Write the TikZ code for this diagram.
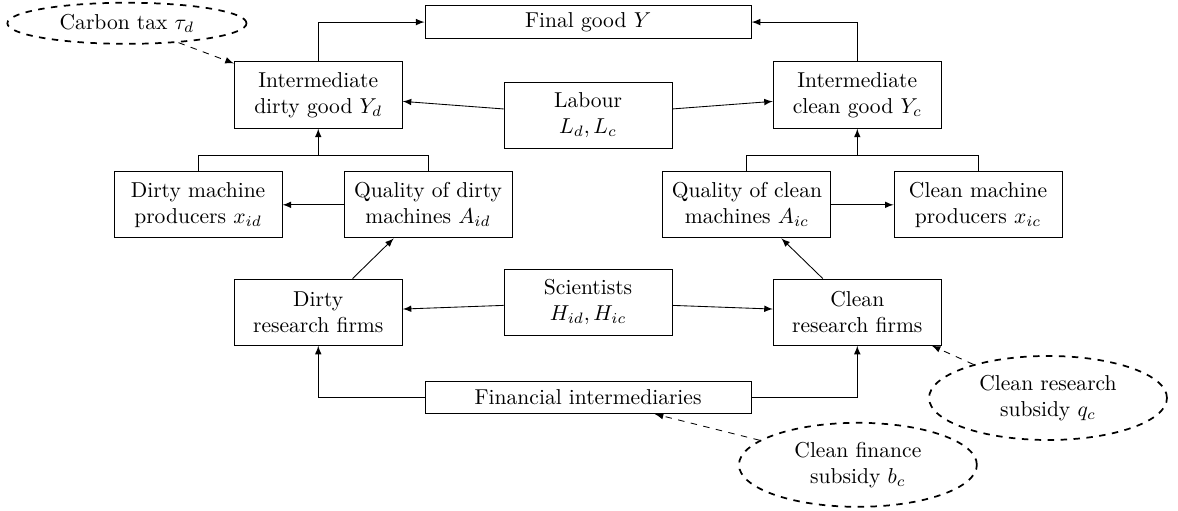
\documentclass[tikz,border=0pt]{standalone}
\usetikzlibrary{shapes.geometric}

\begin{document}
\begin{tikzpicture}
  [
    box/.style={draw,align=center,minimum width=2.74cm,minimum height=1.08cm,inner sep=2pt},
    long box/.style={draw,minimum width=5.32cm,minimum height=0.53cm,inner sep=1pt},
    policy/.style={draw,ellipse,dashed,thick,align=center,minimum width=3.88cm,minimum height=1.37cm,inner sep=0pt},
    flow/.style={-latex},
    policy flow/.style={-latex,dashed},
  ]
  \useasboundingbox (-9.59,0.36) rectangle (9.62,-7.96);

  \node(final)[long box] at (0,0) {Final good $Y$};
  \node(intdirty)[box] at (-4.40,-1.19) {Intermediate\\dirty good $Y_d$};
  \node(labour)[box] at (0,-1.52) {Labour\\$L_d,L_c$};
  \node(intclean)[box] at (4.39,-1.19) {Intermediate\\clean good $Y_c$};

  \node(dirtyprod)[box] at (-6.36,-2.98) {Dirty machine\\producers $x_{id}$};
  \node(qualdirty)[box] at (-2.61,-2.98) {Quality of dirty\\machines $A_{id}$};
  \node(qualclean)[box] at (2.59,-2.98) {Quality of clean\\machines $A_{ic}$};
  \node(cleanprod)[box] at (6.36,-2.98) {Clean machine\\producers $x_{ic}$};

  \node(dirtyres)[box] at (-4.40,-4.73) {Dirty\\research firms};
  \node(scientists)[box] at (0,-4.57) {Scientists\\$H_{id},H_{ic}$};
  \node(cleanres)[box] at (4.39,-4.73) {Clean\\research firms};
  \node(fin)[long box] at (0,-6.12) {Financial intermediaries};

  \node(carbon)[policy,minimum width=3.9cm,minimum height=0.67cm] at (-7.52,-0.02) {Carbon tax $\tau_d$};
  \node(ressub)[policy] at (7.50,-6.13) {Clean research\\subsidy $q_c$};
  \node(finsub)[policy] at (4.40,-7.22) {Clean finance\\subsidy $b_c$};

  \coordinate(dirty split) at (-4.40,-2.17);
  \coordinate(clean split) at (4.39,-2.17);

  \draw[flow] (intdirty) |- (final);
  \draw[flow] (intclean) |- (final);
  \draw[flow] (labour) -- (intdirty);
  \draw[flow] (labour) -- (intclean);

  \draw (dirtyprod) |- (dirty split) -| (qualdirty);
  \draw[flow] (dirty split) -- (intdirty);
  \draw (qualclean) |- (clean split) -| (cleanprod);
  \draw[flow] (clean split) -- (intclean);
  \draw[flow] (qualdirty) -- (dirtyprod);
  \draw[flow] (qualclean) -- (cleanprod);

  \draw[flow] (dirtyres) -- (qualdirty);
  \draw[flow] (cleanres) -- (qualclean);
  \draw[flow] (scientists) -- (dirtyres);
  \draw[flow] (scientists) -- (cleanres);
  \draw[flow] (fin) -| (dirtyres);
  \draw[flow] (fin) -| (cleanres);

  \draw[policy flow] (carbon) -- (intdirty);
  \draw[policy flow] (ressub) -- (cleanres);
  \draw[policy flow] (finsub) -- (fin);

\end{tikzpicture}
\end{document}
